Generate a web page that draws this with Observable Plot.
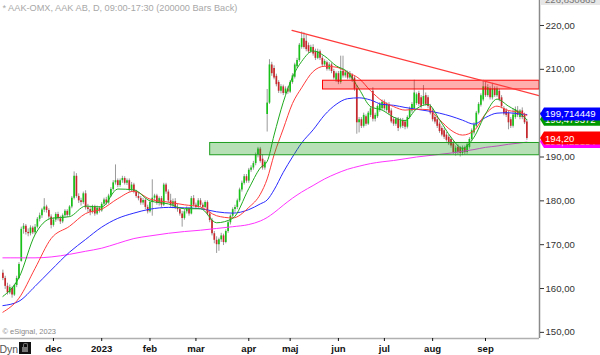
<!DOCTYPE html>
<html><head><meta charset="utf-8">
<script src="https://cdn.jsdelivr.net/npm/d3@7"></script>
<script src="https://cdn.jsdelivr.net/npm/@observablehq/plot@0.6"></script>
<style>
body{margin:0;background:#fff}
#wrap{position:relative;width:600px;height:355px;font-family:"Liberation Sans",Arial,sans-serif;overflow:hidden}
#lock{position:absolute;left:19px;top:342px;width:12px;height:12px;background:#111;}
#lock:after{content:"";position:absolute;left:3px;top:5px;width:6px;height:5px;background:#777;}
#lock:before{content:"";position:absolute;left:4px;top:1px;width:3px;height:4px;border:1px solid #777;border-bottom:none;border-radius:2px 2px 0 0;}
</style>
</head><body><div id="wrap"><div id="lock"></div></div>
<script>
// ---- Data (daily bars, 2022-11-01 .. 2023-09-27) ----
const opens = [163.5,162.3,160.5,159.0,160.0,158.5,160.7,162.3,166.2,173.5,174.2,172.8,172.5,173.8,172.7,174.0,175.8,176.6,177.9,178.6,177.8,176.3,174.4,175.6,176.9,175.9,175.2,176.6,177.6,176.7,178.6,180.6,185.6,181.0,180.0,179.6,181.6,178.4,178.0,177.4,178.6,177.0,178.3,177.7,179.2,180.2,179.5,181.1,182.6,184.1,184.6,183.5,184.6,185.1,184.0,184.6,182.5,183.6,182.0,181.0,180.5,179.5,180.1,178.5,177.5,179.6,180.6,181.1,179.5,180.5,179.0,183.6,182.0,180.0,179.0,179.8,178.5,178.0,177.0,176.0,177.5,178.1,177.0,180.5,179.0,178.5,180.0,179.0,178.5,179.6,177.0,175.5,172.5,171.0,170.0,171.1,172.0,170.5,173.0,175.0,176.5,178.0,178.5,180.0,182.5,184.0,185.5,184.5,187.0,187.5,188.5,190.5,191.8,189.5,187.5,199.7,202.3,211.0,210.2,208.4,207.0,205.0,206.0,204.5,205.5,204.8,207.0,208.2,210.6,212.0,215.0,217.0,216.4,215.4,214.0,215.0,214.0,212.5,214.0,212.5,211.0,211.5,210.0,211.0,209.5,207.5,209.0,207.0,209.5,208.5,209.2,208.0,208.6,208.0,205.5,197.8,198.5,197.0,199.2,197.5,199.5,205.0,198.6,199.2,200.6,201.0,202.5,200.6,202.0,200.5,198.5,197.5,198.6,196.8,198.3,198.0,196.8,199.0,200.5,201.0,202.2,204.5,203.5,202.0,204.0,203.5,201.5,200.5,199.0,198.5,197.5,196.5,196.0,195.0,194.5,194.0,193.0,190.8,192.2,192.0,190.8,192.0,191.0,192.2,194.0,195.5,197.0,200.0,201.8,203.0,206.0,204.0,205.5,203.5,205.5,204.0,205.0,203.5,201.0,200.5,200.0,198.5,197.0,199.0,200.5,199.0,200.5,199.5,198.0];
const highs = [164.2,162.8,161.2,160.8,160.4,161.0,162.8,165.9,174.0,174.8,174.6,173.6,174.3,174.2,174.6,176.2,177.2,178.3,180.5,179.0,178.2,176.8,176.1,177.3,177.4,176.5,177.0,178.0,178.0,178.9,181.0,186.6,186.2,181.6,180.6,182.0,182.3,179.2,178.6,179.0,179.0,178.8,178.7,179.6,180.6,180.8,181.5,183.0,184.6,188.2,185.0,185.0,185.6,185.5,185.0,185.0,184.2,184.0,182.4,181.8,181.0,180.6,180.5,179.0,179.9,184.8,181.5,181.5,180.9,181.0,184.0,184.0,182.5,181.5,180.4,180.5,179.2,178.5,177.6,178.0,178.6,178.5,181.0,181.2,179.5,180.5,180.5,179.5,180.0,180.0,177.5,176.0,173.0,171.8,171.5,172.6,172.4,173.4,175.4,176.8,178.4,179.0,180.4,182.9,184.5,186.0,186.0,187.4,188.0,189.0,190.9,192.2,192.2,190.5,189.2,205.4,212.2,211.6,210.8,208.9,207.4,206.5,206.4,206.0,206.0,207.4,209.0,211.4,212.5,215.9,218.5,218.3,217.8,216.0,215.5,215.6,214.6,214.6,214.4,213.0,212.2,211.9,211.5,211.4,210.0,209.4,209.5,213.0,213.0,209.6,209.6,209.5,209.0,208.4,206.3,199.0,199.0,200.0,199.6,200.4,201.5,205.8,200.0,201.9,202.4,203.0,203.0,202.4,202.4,201.0,199.0,199.0,199.0,198.8,198.8,198.4,199.4,201.4,202.4,207.5,204.6,205.0,204.0,206.3,204.6,204.0,202.0,201.0,199.5,199.0,198.0,197.0,196.5,195.6,195.0,194.5,193.5,192.5,192.8,192.4,192.5,192.5,193.2,194.4,196.4,197.8,200.4,202.4,204.4,207.5,207.0,206.5,206.0,206.8,206.0,206.0,205.5,204.0,201.5,201.0,200.5,199.0,201.0,201.4,201.5,200.8,201.2,200.0,198.4];
const lows = [161.8,159.8,158.5,158.6,157.8,158.2,160.2,162.0,166.0,172.4,172.2,171.8,172.0,172.3,172.2,173.6,175.2,176.0,177.3,177.2,175.8,173.6,174.0,175.1,175.4,174.6,174.8,176.1,176.2,176.3,178.2,180.2,180.6,179.4,178.8,179.2,177.9,177.3,176.6,177.0,176.5,176.7,177.2,177.4,178.8,179.0,179.2,180.8,182.2,183.6,183.0,183.1,184.0,183.6,183.5,182.0,182.1,181.6,180.6,180.0,179.0,179.0,178.0,177.0,177.2,176.5,179.8,179.0,178.8,178.5,178.7,181.5,179.5,178.5,178.2,178.0,177.4,176.5,174.0,175.6,177.0,176.5,176.8,178.6,178.0,178.2,178.5,177.8,178.2,176.6,175.0,172.0,170.2,168.0,168.5,170.5,169.8,170.2,172.6,174.5,176.0,177.4,178.0,179.6,182.0,183.6,184.0,184.0,186.5,187.0,188.0,189.8,188.6,187.0,187.0,195.7,202.0,208.4,207.6,206.0,204.5,204.4,204.0,204.2,204.3,204.5,206.6,207.8,210.2,211.6,214.6,214.6,214.0,213.6,213.6,213.0,212.0,212.2,212.0,210.6,210.5,209.6,209.6,209.0,207.6,207.0,206.5,206.6,208.0,208.0,207.6,207.6,207.0,205.0,195.2,195.5,196.5,196.6,197.0,197.2,199.0,198.0,198.0,198.8,200.2,200.6,200.5,200.2,199.6,197.6,197.0,197.0,195.8,196.4,196.5,196.2,196.4,198.6,200.0,200.5,201.8,201.5,201.0,201.6,201.6,201.0,199.6,198.0,197.5,196.5,195.4,194.6,194.0,193.4,192.6,192.0,190.6,190.2,190.5,190.0,190.3,190.5,190.6,191.8,193.6,195.0,196.6,199.6,201.4,202.6,203.6,203.6,203.0,203.0,203.6,203.6,202.6,201.0,199.4,199.0,196.2,196.5,196.6,198.6,199.0,198.5,198.5,197.4,193.8];
const closes = [162.3,160.5,159.0,160.2,158.5,160.7,162.3,165.5,173.5,174.2,172.8,172.5,173.8,172.7,174.0,175.8,176.6,177.9,178.6,177.8,176.3,174.4,175.6,176.9,175.9,175.2,176.6,177.6,176.7,178.6,180.6,185.6,181.0,180.0,179.6,181.6,178.4,178.0,177.4,178.6,177.0,178.3,177.7,179.2,180.2,179.5,181.1,182.6,184.1,184.6,183.5,184.6,185.1,184.0,184.6,182.5,183.6,182.0,181.0,180.5,179.5,180.1,178.5,177.5,179.6,180.6,181.1,179.5,180.5,179.0,183.6,182.0,180.0,179.0,179.8,178.5,178.0,177.0,176.0,177.5,178.1,177.0,180.5,179.0,178.5,180.0,179.0,178.5,179.6,177.0,175.5,172.5,171.0,170.0,171.1,172.0,170.5,173.0,175.0,176.5,178.0,178.5,180.0,182.5,184.0,185.5,184.5,187.0,187.5,188.5,190.5,191.8,189.0,187.5,188.8,202.3,211.0,209.0,208.0,206.5,205.0,206.0,204.5,205.5,204.8,207.0,208.5,211.0,212.0,215.5,217.0,215.0,214.5,214.0,215.0,213.5,212.5,214.0,212.5,211.0,211.8,210.0,211.0,209.5,208.0,209.0,207.0,209.5,208.5,209.2,208.0,209.0,207.5,205.5,197.8,198.5,197.0,199.5,197.5,200.0,201.0,198.6,199.5,201.5,202.0,202.5,201.0,202.0,200.0,198.0,197.5,198.6,196.5,198.3,197.0,196.8,199.0,201.0,202.0,204.6,204.2,202.0,201.5,203.8,202.0,201.5,200.0,198.5,198.0,197.0,195.8,195.0,194.5,193.8,193.0,192.5,191.0,192.0,191.0,190.8,192.0,191.0,192.8,194.0,196.0,197.3,200.0,202.0,204.0,206.0,204.0,205.8,203.5,205.5,204.0,205.5,203.0,201.5,199.8,199.5,197.8,197.0,199.6,200.8,199.5,200.5,199.0,197.8,194.2];

// Moving averages read at sample bar positions
const maAt      = [0,7,14,21,29,36,43,50,57,64,72,79,86,93,100,107,112,115,118,122,126,130,135,140,145,150,155,160,165,170,175,180,185,190,195,200,205,210,215,220,225,228];
const maGreen   = [158.2,162.5,172.3,176.0,176.4,178.8,178.6,182.7,182.5,180.0,179.3,178.2,178.2,175.0,176.0,182.8,187.5,189.0,195.0,202.5,208.2,211.8,214.2,213.0,210.8,209.4,205.5,201.5,200.7,199.1,198.3,201.0,202.0,198.5,194.5,192.0,194.5,199.8,203.2,201.6,200.0,198.5];
const maRed     = [154.6,157.8,164.6,171.4,174.2,177.1,178.1,180.5,182.2,180.4,179.7,179.1,178.6,176.6,176.1,178.5,181.5,185.0,190.5,196.4,202.2,205.8,209.5,210.7,210.5,209.3,207.9,205.1,202.8,201.5,200.7,200.9,200.8,198.5,196.1,195.0,196.0,199.8,201.6,200.6,200.2,199.5];
const maBlue    = [156.1,157.1,160.5,164.2,168.3,171.2,174.0,176.0,177.2,178.1,178.5,178.4,178.2,177.5,177.2,178.0,179.3,180.2,182.5,186.5,190.0,193.2,196.2,199.6,202.0,203.3,203.5,203.0,202.0,201.8,201.3,200.9,200.5,200.0,199.3,198.4,197.5,199.0,200.0,200.1,199.8,199.7];
const maMagenta = [167.0,167.0,167.0,167.2,167.8,168.5,169.2,170.3,171.4,172.0,172.6,173.0,173.3,173.7,174.1,174.6,175.4,176.2,177.3,179.0,180.6,182.0,183.5,185.0,186.2,187.2,187.9,188.5,188.9,189.2,189.6,190.0,190.3,190.6,190.9,191.3,191.7,192.2,192.5,192.9,193.2,193.4];

// Trendline (bar position, price) and horizontal zones
const trendAt = [125.8, 233.3];
const trendPrice = [218.9, 204.0];
const zoneStart = [139.3, 90.2];
const zoneLow = [205.4, 190.4];
const zoneHigh = [207.4, 193.2];
const zoneColors = ["#ff0000", "#1f9e1f"];

// Price tags on the right axis
const tagValues = [193.425154, 194.20, 198.479372, 199.714449];
const tagLabels = ["193,425154", "194,20", "198,479372", "199,714449"];
const tagColors = ["#ff00ff", "#ff0000", "#009900", "#0000ff"];
const topLabel = "226,830665";

const yTicks = [150,160,170,180,190,200,210,220];
const monthLabels = ["nov","dec","2023","feb","mar","apr","maj","jun","jul","aug","sep"];
const holidays = ["2022-12-26","2023-01-06","2023-04-07","2023-04-10","2023-05-01","2023-05-18","2023-06-06","2023-06-23"];

// ---- trading calendar ----
const dates = [];
for (let d = new Date(Date.UTC(2022,10,1)); d <= new Date(Date.UTC(2023,8,27)); d = new Date(d.getTime()+864e5)) {
  const wd = d.getUTCDay(); const s = d.toISOString().slice(0,10);
  if (wd !== 0 && wd !== 6 && !holidays.includes(s)) dates.push(d);
}
const bars = closes.map((c,i) => ({i, o: opens[i], h: highs[i], l: lows[i], c, date: dates[i]}));
const monthTicks = [], monthTickText = new Map();
bars.forEach((b,i) => {
  if (i === 0 || b.date.getUTCMonth() !== bars[i-1].date.getUTCMonth()) {
    const m = monthTicks.length;
    if (m > 0) { monthTicks.push(i); monthTickText.set(i, monthLabels[m]); } else monthTicks.push(null);
  }
});
const ticksX = monthTicks.filter(t => t !== null);

const n = bars.length;
const xDomain = [-1.04, n - 1 + 5.5];
const yDomain = [148.6, 225.7];
const mas = [[maMagenta,"#ff33ff"],[maBlue,"#2a2aff"],[maRed,"#ff3b3b"],[maGreen,"#1faa1f"]];
const zones = zoneStart.map((s,k) => ({s, e: xDomain[1], lo: zoneLow[k], hi: zoneHigh[k], color: zoneColors[k]}));
const trend = trendAt.map((t,k) => ({t, p: trendPrice[k]}));

function priceTags(index, scales, values, dim) {
  const g = d3.create("svg:g").attr("font-family", "Liberation Sans, Arial, sans-serif").attr("font-size", 9.6).attr("text-anchor", "start");
  const x0 = dim.width - dim.marginRight;
  // top boundary label
  g.append("rect").attr("x", x0+1).attr("y", -7).attr("width", dim.width - x0).attr("height", 12).attr("fill", "#e6e6e6");
  g.append("text").attr("x", x0+6).attr("y", 3).attr("fill", "#777").text(topLabel);
  tagValues.forEach((v,k) => {
    const cy = scales.y(v);
    g.append("path").attr("d", `M${x0+1},${cy}L${x0+5},${cy-6.5}H${dim.width}V${cy+6.5}H${x0+5}Z`).attr("fill", tagColors[k]);
    g.append("text").attr("x", x0+6).attr("y", cy).attr("dy", "0.36em").attr("fill", "#fff").text(tagLabels[k]);
  });
  return g.node();
}

const chart = Plot.plot({
  width: 600, height: 355,
  marginLeft: 0, marginRight: 61, marginTop: 0, marginBottom: 17,
  style: {fontFamily: "Liberation Sans, Arial, sans-serif", background: "#fff"},
  x: {domain: xDomain, axis: null},
  y: {domain: yDomain, axis: null},
  marks: [
    Plot.ruleX(bars, {x: "i", y1: "l", y2: "h", stroke: "#9a9a9a", strokeWidth: 1}),
    Plot.ruleX(bars, {x: "i", y1: "o", y2: d => d.c === d.o ? d.c + 0.15 : d.c, stroke: d => d.c >= d.o ? "#19c219" : "#c8282d", strokeWidth: 1.7}),
    ...mas.map(([vals, color]) => Plot.line(maAt.map((t,k) => ({t, v: vals[k]})), {x: "t", y: "v", stroke: color, strokeWidth: 1, curve: "monotone-x"})),
    Plot.rect(zones, {x1: "s", x2: "e", y1: "lo", y2: "hi", fill: "color", fillOpacity: 0.32, stroke: "color", strokeWidth: 1}),
    Plot.line(trend, {x: "t", y: "p", stroke: "#ff3a3a", strokeWidth: 1.2, clip: true}),
    Plot.ruleX([xDomain[1]], {stroke: "#8a8a8a", strokeWidth: 1.5}),
    Plot.ruleY([yDomain[0]], {stroke: "#b0b0b0", strokeWidth: 1.5}),
    Plot.axisY({anchor: "right", ticks: yTicks, tickSize: 4, tickPadding: 2, fontSize: 9.6, color: "#333", tickFormat: d => d.toFixed(2).replace(".", ",")}),
    Plot.axisX({anchor: "bottom", ticks: ticksX, tickSize: 3, tickPadding: 4, fontSize: 9.6, fontWeight: "bold", color: "#111", tickFormat: i => monthTickText.get(i)}),
    priceTags,
    Plot.text(["* AAK-OMX, AAK AB, D, 09:00-17:30 (200000 Bars Back)"], {frameAnchor: "top-left", dx: 2, dy: 4, fontSize: 9.2, fill: "#a8a8a8", textAnchor: "start", lineAnchor: "top"}),
    Plot.text(["© eSignal, 2023"], {frameAnchor: "bottom-left", dx: 2, dy: -5, fontSize: 7.5, fill: "#888", textAnchor: "start", lineAnchor: "bottom"}),
    Plot.text(["Dyn"], {frameAnchor: "bottom-left", dx: -1, dy: 11, fontSize: 10.5, fill: "#555", textAnchor: "start", lineAnchor: "middle"})
  ]
});
document.getElementById("wrap").prepend(chart);
</script>
</body></html>
